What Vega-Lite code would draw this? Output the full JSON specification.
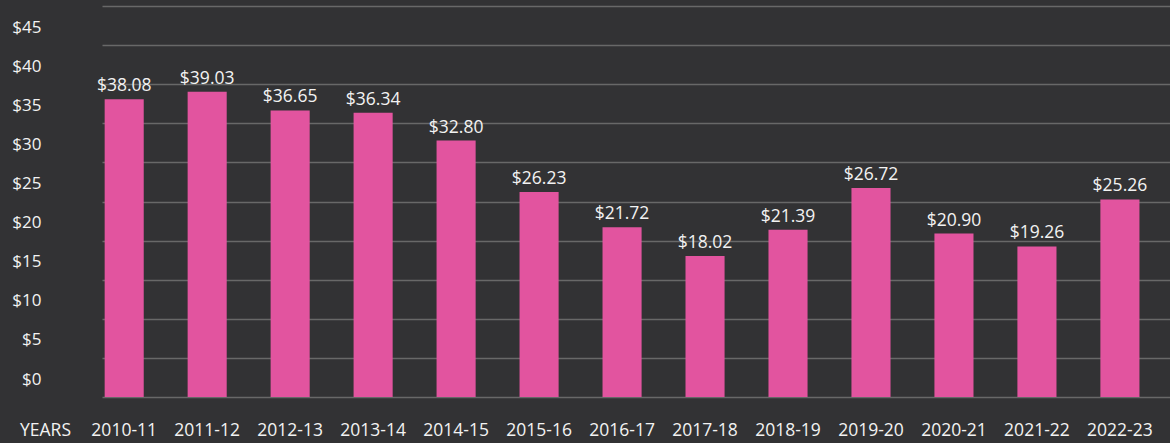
{
  "$schema": "https://vega.github.io/schema/vega-lite/v6.json",
  "autosize": {"type": "none"},
  "padding": {"left": 102, "top": 6, "right": 0, "bottom": 46},
  "width": 1068,
  "height": 391,
  "background": "#323234",
  "config": {
    "view": {"stroke": null},
    "font": "Open Sans",
    "axis": {"labelFont": "Open Sans", "titleFont": "Open Sans"}
  },
  "data": {
    "values": [
      {"year": "2010-11", "price": 38.08},
      {"year": "2011-12", "price": 39.03},
      {"year": "2012-13", "price": 36.65},
      {"year": "2013-14", "price": 36.34},
      {"year": "2014-15", "price": 32.80},
      {"year": "2015-16", "price": 26.23},
      {"year": "2016-17", "price": 21.72},
      {"year": "2017-18", "price": 18.02},
      {"year": "2018-19", "price": 21.39},
      {"year": "2019-20", "price": 26.72},
      {"year": "2020-21", "price": 20.90},
      {"year": "2021-22", "price": 19.26},
      {"year": "2022-23", "price": 25.26}
    ]
  },
  "encoding": {
    "x": {
      "field": "year",
      "type": "nominal",
      "sort": null,
      "scale": {"paddingInner": 0.529, "paddingOuter": 0.2, "align": 0.08},
      "axis": {
        "title": "YEARS",
        "titleX": -57,
        "titleY": 38,
        "titleAlign": "center",
        "titleBaseline": "alphabetic",
        "titleFontSize": 17.5,
        "titleFontWeight": "normal",
        "titleColor": "#f2f2f2",
        "labelAngle": 0,
        "labelFontSize": 17.5,
        "labelColor": "#f2f2f2",
        "labelPadding": 24,
        "ticks": false,
        "tickSize": 0,
        "domain": false,
        "grid": false
      }
    },
    "y": {
      "field": "price",
      "type": "quantitative",
      "scale": {"domain": [0, 50], "nice": false},
      "axis": {
        "title": null,
        "values": [0, 5, 10, 15, 20, 25, 30, 35, 40, 45, 50],
        "labelExpr": "datum.value >= 50 ? '' : '$' + datum.label",
        "labelOffset": -18,
        "labelFontSize": 17,
        "labelColor": "#f2f2f2",
        "labelPadding": 61,
        "labelBaseline": "middle",
        "ticks": false,
        "tickSize": 0,
        "domain": false,
        "grid": true,
        "gridColor": "#686868",
        "gridWidth": 1.5
      }
    }
  },
  "layer": [
    {"mark": {"type": "bar", "color": "#E2549F"}},
    {
      "mark": {"type": "text", "color": "#f2f2f2", "fontSize": 17.5, "baseline": "alphabetic", "dy": -8},
      "encoding": {"text": {"field": "price", "type": "quantitative", "format": "$.2f"}}
    }
  ]
}
